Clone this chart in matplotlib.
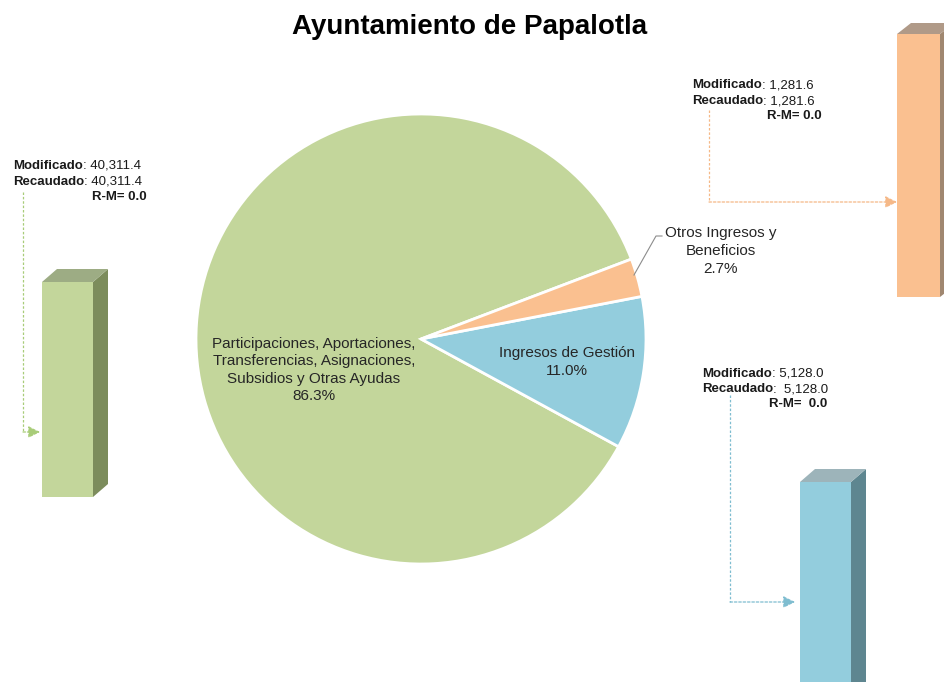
import matplotlib
matplotlib.use("Agg")
import matplotlib.pyplot as plt
from matplotlib.patches import Polygon

plt.rcParams['font.family'] = ['Liberation Sans', 'DejaVu Sans']

# ---- data ----
title = "Ayuntamiento de Papalotla"
categories = ["Participaciones, Aportaciones,\nTransferencias, Asignaciones,\nSubsidios y Otras Ayudas",
              "Ingresos de Gestión",
              "Otros Ingresos y\nBeneficios"]
modificado = [40311.4, 5128.0, 1281.6]
recaudado = [40311.4, 5128.0, 1281.6]
front_colors = ["#C3D69B", "#93CDDD", "#FAC090"]
side_colors = ["#7C8C5C", "#5E8690", "#A08770"]
top_colors = ["#9DAC84", "#9DB4BA", "#B09A88"]
line_colors = ["#A8CC78", "#7FBDD0", "#F5B887"]

W, H = 944, 682
fig = plt.figure(figsize=(W / 100, H / 100), dpi=100)
ax = fig.add_axes([0, 0, 1, 1])
ax.axis('off')

def Y(py):
    return H - py

# ---- pie ----
total = sum(recaudado)
wedges, _ = ax.pie(recaudado, colors=front_colors, startangle=20.8, counterclock=True,
                   center=(421, Y(339)), radius=225,
                   wedgeprops=dict(edgecolor='white', linewidth=2))
ax.set_xlim(0, W)
ax.set_ylim(0, H)
ax.set_aspect('auto')

pct = [v / total * 100 for v in recaudado]
lab_kw = dict(ha='center', va='center', fontsize=11, color='#262626', linespacing=1.32)
ax.text(314, Y(370), f"{categories[0]}\n{pct[0]:.1f}%", **lab_kw)
ax.text(567, Y(362), f"{categories[1]}\n{pct[1]:.1f}%", **lab_kw)
ax.text(721, Y(251), f"{categories[2]}\n{pct[2]:.1f}%", **lab_kw)
ax.plot([634, 656, 662], [Y(275), Y(236), Y(236)], color='#8C8C8C', lw=0.8)

ax.text(470, Y(27), title, ha='center', va='center', fontsize=20, fontweight='bold',
        color='black')

# ---- 3D bars (each in its own small axes) ----
# (left px, top px, bottom px, front width px, depth x px, depth y px)
bar_boxes = [(42, 282, 497, 51, 15, 13),
             (800, 482, 700, 51, 15, 13),
             (897, 34, 297, 43, 14, 11)]
for i, (lx, ty, by, bw, dx, dy) in enumerate(bar_boxes):
    hpx = by - ty
    bax = fig.add_axes([lx / W, (H - by) / H, (bw + dx + 2) / W, hpx / H])
    bax.set_xlim(0, bw + dx + 2)
    val = modificado[i]
    bax.set_ylim(0, val)
    bax.axis('off')
    bax.bar([0], [val], width=bw, align='edge', color=front_colors[i], edgecolor='none')
    ddy = dy / hpx * val
    side = Polygon([(bw, 0), (bw + dx, ddy), (bw + dx, val + ddy), (bw, val)],
                   closed=True, facecolor=side_colors[i], edgecolor='none', clip_on=False)
    top = Polygon([(0, val), (dx, val + ddy), (bw + dx, val + ddy), (bw, val)],
                  closed=True, facecolor=top_colors[i], edgecolor='none', clip_on=False)
    bax.add_patch(side)
    bax.add_patch(top)

# ---- annotations ----
renderer = fig.canvas.get_renderer()
FS = 9.5

def mixed_line(x, py, bold, normal):
    t = ax.text(x, Y(py), bold, fontsize=FS, fontweight='bold', ha='left',
                va='baseline', color='#1a1a1a')
    bb = t.get_window_extent(renderer=renderer)
    ax.text(bb.x1, Y(py), normal, fontsize=FS, ha='left', va='baseline',
            color='#1a1a1a')

def rm_line(xr, py, txt):
    ax.text(xr, Y(py), txt, fontsize=FS, fontweight='bold', ha='right',
            va='baseline', color='#1a1a1a')

# (text left, baseline1, baseline2, baseline3, R-M right, gap2, gap3)
ann = [(13, 169, 185, 200, 147, " ", " "),
       (702, 377, 392, 407, 827, "  ", "  "),
       (692, 88, 104, 119, 822, " ", " ")]
for i, (lx, y1, y2, y3, rx, g2, g3) in enumerate(ann):
    mixed_line(lx, y1, "Modificado", f": {modificado[i]:,.1f}")
    mixed_line(lx, y2, "Recaudado", f":{g2}{recaudado[i]:,.1f}")
    rm_line(rx, y3, f"R-M={g3}{recaudado[i] - modificado[i]:.1f}")

# connectors: (vertical x, start y, end y, arrow tip x)
conns = [(23, 192, 432, 40), (730, 395, 602, 795), (709, 110, 202, 897)]
for i, (vx, y0, y1, tip) in enumerate(conns):
    ax.plot([vx, vx], [Y(y0), Y(y1)], color=line_colors[i], lw=0.9, ls=(0, (2, 1.5)))
    ax.annotate("", xy=(tip, Y(y1)), xytext=(vx, Y(y1)),
                arrowprops=dict(arrowstyle='-|>,head_length=0.7,head_width=0.35',
                                color=line_colors[i], lw=0.9, ls=(0, (2, 1.5)),
                                shrinkA=0, shrinkB=0))

fig.savefig("out.png", dpi=100)
